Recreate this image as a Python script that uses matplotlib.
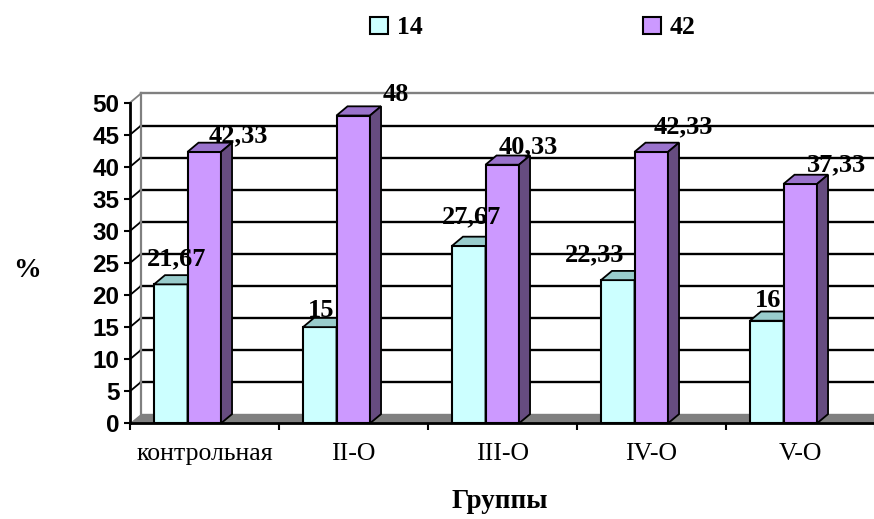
import matplotlib
matplotlib.use("Agg")
import matplotlib.pyplot as plt
from matplotlib.patches import Polygon, Patch

# data
groups = ["контрольная", "II-O", "III-O", "IV-O", "V-O"]
series_names = ["14", "42"]
values_14 = [21.67, 15, 27.67, 22.33, 16]
values_42 = [42.33, 48, 40.33, 42.33, 37.33]
y_ticks = [0, 5, 10, 15, 20, 25, 30, 35, 40, 45, 50]

# label nudges (pixels) the way the original places them
off_14 = [(6, 10), (1, 1), (3, 13.5), (-23, 9.5), (1.5, 5)]
off_42 = [(34.5, 0), (43, 5), (26, 2.5), (32.5, 9.7), (36, 3.6)]

SERIF = "Liberation Serif"
SANS = "Liberation Sans"

W, H = 874, 519
fig = plt.figure(figsize=(W / 100, H / 100), dpi=100)
ax = fig.add_axes([130 / W, 95.7 / H, 745 / W, 320.6 / H])
n = len(groups)
ax.set_xlim(0, n)
ax.set_ylim(0, 50)

# 3d depth in data units
DX = 11 / 149
DY = 9.2 / 6.412
BW = 0.225
SHIFT = -0.114

# floor
ax.add_patch(Polygon([(0, 0), (n + 0.2, 0), (n + 0.2, DY), (DX, DY)],
                     closed=True, fc="#808080", ec="#808080", lw=1, zorder=1, clip_on=False))

# back wall gridlines and side wall lines
for v in y_ticks[1:]:
    col = "#808080" if v == y_ticks[-1] else "black"
    ax.plot([DX, n + 0.2], [v + DY, v + DY], color=col, lw=1.7, zorder=1, clip_on=False)
    ax.plot([0, DX], [v, v + DY], color=col, lw=1.3, zorder=1, clip_on=False)
ax.plot([DX, DX], [DY, 50 + DY], color="#808080", lw=1.6, zorder=1, clip_on=False)


def bars3d(lefts, vals, front, top, side, z):
    ax.bar(lefts, vals, width=BW, align="edge", color=front, edgecolor="black",
           linewidth=1.5, zorder=z)
    for x0, h in zip(lefts, vals):
        ax.add_patch(Polygon([(x0, h), (x0 + BW, h), (x0 + BW + DX, h + DY), (x0 + DX, h + DY)],
                             closed=True, fc=top, ec="black", lw=1.3, zorder=z, clip_on=False))
        ax.add_patch(Polygon([(x0 + BW, 0), (x0 + BW + DX, DY), (x0 + BW + DX, h + DY), (x0 + BW, h)],
                             closed=True, fc=side, ec="black", lw=1.3, zorder=z, clip_on=False))


centers = [i + 0.5 + SHIFT for i in range(n)]
left_14 = [c - BW for c in centers]
left_42 = list(centers)
bars3d(left_14, values_14, "#CCFFFF", "#99CCCC", "#669999", 3)
bars3d(left_42, values_42, "#CC99FF", "#9A73CC", "#664C80", 4)


def fmt(v):
    return f"{v:g}".replace(".", ",")


for lefts, vals, offs in ((left_14, values_14, off_14), (left_42, values_42, off_42)):
    for x0, h, (dx, dy) in zip(lefts, vals, offs):
        ax.annotate(fmt(h), xy=(x0 + BW / 2, h + DY), xytext=(dx * 0.72, dy * 0.72),
                    textcoords="offset points", ha="center", va="baseline",
                    fontsize=19, fontweight="bold", family=SERIF, zorder=6,
                    annotation_clip=False)

# axes
for s in ("top", "right"):
    ax.spines[s].set_visible(False)
for s in ("left", "bottom"):
    ax.spines[s].set_linewidth(2)
    ax.spines[s].set_zorder(5)
ax.set_xticks(range(n + 1))
ax.set_xticklabels([])
ax.set_xticks([i + 0.5 for i in range(n)], minor=True)
ax.set_xticklabels(groups, minor=True, fontsize=18.5, family=SERIF)
ax.tick_params(axis="x", which="major", length=5, width=1.5, direction="out")
ax.tick_params(axis="x", which="minor", length=0, pad=14)
ax.set_yticks(y_ticks)
ax.set_yticklabels([str(t) for t in y_ticks], fontsize=17.5, fontweight="bold", family=SANS)
ax.tick_params(axis="y", length=4.5, width=1.5, pad=3)
ax.patch.set_alpha(0)

fig.text(27 / W, 1 - 277 / H, "%", ha="center", va="baseline",
         fontsize=20, fontweight="bold", family=SERIF)
fig.text(500 / W, 1 - 508 / H, "Группы", ha="center", va="baseline",
         fontsize=19.5, fontweight="bold", family=SERIF)

handles = [Patch(fc="#CCFFFF", ec="black", lw=1.5), Patch(fc="#CC99FF", ec="black", lw=1.5)]
fig.legend(handles, series_names, ncol=2, loc="center", bbox_to_anchor=(533 / W, 1 - 28 / H),
           frameon=False, handlelength=0.68, handleheight=0.68, handletextpad=0.35,
           columnspacing=8.6, prop={"family": SERIF, "weight": "bold", "size": 18.5})

fig.savefig("out.png", dpi=100)
